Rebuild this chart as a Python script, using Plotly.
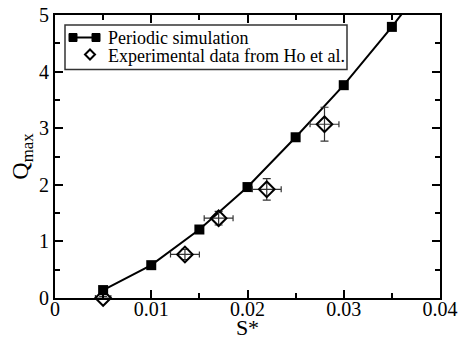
import plotly.graph_objects as go

sim_s = [0.005, 0.010, 0.015, 0.020, 0.025, 0.030, 0.035, 0.040]
sim_q = [0.14, 0.58, 1.21, 1.96, 2.84, 3.76, 4.79, 5.90]

exp_s = [0.005, 0.0135, 0.017, 0.022, 0.028]
exp_q = [0.00, 0.77, 1.41, 1.92, 3.07]
exp_s_err = [0.0008, 0.0015, 0.0015, 0.0015, 0.0015]
exp_q_err = [0.03, 0.09, 0.12, 0.19, 0.30]

x_ticks = [0, 0.01, 0.02, 0.03, 0.04]
x_labels = ["0", "0.01", "0.02", "0.03", "0.04"]
y_ticks = [0, 1, 2, 3, 4, 5]

legend_names = ["Periodic simulation", "Experimental data from Ho et al."]

FONT = "Liberation Serif, Times New Roman, serif"

W, H = 460, 340
ML, MR, MT, MB = 55, 20, 15, 42
PW, PH = W - ML - MR, H - MT - MB


def px(x):
    return (x - ML) / PW


def py(y):
    return (H - MB - y) / PH


fig = go.Figure()
fig.add_trace(go.Scatter(
    x=sim_s, y=sim_q, mode="lines+markers", name=legend_names[0],
    line=dict(color="black", width=2),
    marker=dict(symbol="square", size=10, color="black"),
    showlegend=False,
))
fig.add_trace(go.Scatter(
    x=exp_s, y=exp_q, mode="markers", name=legend_names[1],
    marker=dict(symbol="diamond-open", size=12, color="black", line=dict(width=2, color="black")),
    error_x=dict(type="data", array=exp_s_err, color="#333333", thickness=1.2, width=3),
    error_y=dict(type="data", array=exp_q_err, color="#333333", thickness=1.2, width=4),
    cliponaxis=False,
    showlegend=False,
))

axis_common = dict(
    showgrid=False, zeroline=False, showline=True, linecolor="black", linewidth=2,
    mirror="ticks", ticks="inside", ticklen=8, tickwidth=1.5, tickcolor="black",
    tickfont=dict(family=FONT, size=20, color="black"),
    automargin=False,
)

fig.update_xaxes(
    range=[0, 0.04], tickvals=x_ticks, ticktext=x_labels,
    minor=dict(dtick=0.005, ticks="inside", ticklen=5, tickwidth=1.5, tickcolor="black"),
    title=dict(text="S*", font=dict(family=FONT, size=22, color="black"), standoff=4),
    ticklabelstandoff=-8,
    **axis_common,
)
fig.update_yaxes(
    range=[0, 5], tickvals=y_ticks,
    minor=dict(dtick=0.5, ticks="inside", ticklen=5, tickwidth=1.5, tickcolor="black"),
    title=dict(text="Q<sub>max</sub>", font=dict(family=FONT, size=24, color="black"), standoff=4),
    **axis_common,
)

# hand-built legend box (layout decoration, not data)
shapes = [
    dict(type="rect", xref="paper", yref="paper",
         x0=px(65), x1=px(347), y0=py(69.5), y1=py(25),
         line=dict(color="#333333", width=1.5), fillcolor="white", layer="above"),
    dict(type="line", xref="paper", yref="paper",
         x0=px(73), x1=px(96), y0=py(37.5), y1=py(37.5),
         line=dict(color="black", width=2), layer="above"),
    dict(type="rect", xref="paper", yref="paper",
         x0=px(69), x1=px(77), y0=py(41.5), y1=py(33.5),
         line=dict(color="black", width=1), fillcolor="black", layer="above"),
    dict(type="rect", xref="paper", yref="paper",
         x0=px(92), x1=px(100), y0=py(41.5), y1=py(33.5),
         line=dict(color="black", width=1), fillcolor="black", layer="above"),
    dict(type="path", xref="paper", yref="paper",
         path="M {a},{b} L {c},{d} L {a},{e} L {f},{d} Z".format(
             a=px(90), b=py(49.5), c=px(95), d=py(54.5), e=py(59.5), f=px(85)),
         line=dict(color="black", width=2), fillcolor="white", layer="above"),
]
annotations = [
    dict(text=legend_names[0], xref="paper", yref="paper", x=px(106), y=py(38),
         xanchor="left", yanchor="middle", showarrow=False,
         font=dict(family=FONT, size=18, color="black")),
    dict(text=legend_names[1], xref="paper", yref="paper", x=px(106), y=py(55.5),
         xanchor="left", yanchor="middle", showarrow=False,
         font=dict(family=FONT, size=18, color="black")),
]

fig.update_layout(
    width=W, height=H,
    margin=dict(l=ML, r=MR, t=MT, b=MB),
    plot_bgcolor="white", paper_bgcolor="white",
    showlegend=False,
    shapes=shapes,
    annotations=annotations,
)

fig.write_html("out.html", config={"displayModeBar": False},
               post_script="document.body.style.margin='0';")
